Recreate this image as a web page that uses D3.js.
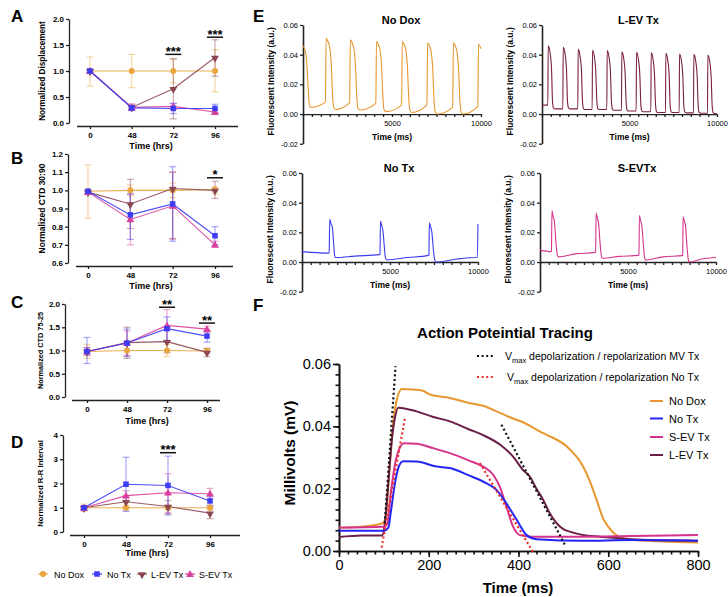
<!DOCTYPE html>
<html><head><meta charset="utf-8">
<script src="https://cdn.jsdelivr.net/npm/d3@7/dist/d3.min.js"></script>
<style>
body{margin:0;background:#fff;}
svg{display:block;}
text{font-family:Arial,"Liberation Sans",Helvetica,sans-serif;fill:#000;}
</style></head><body>
<svg id="fig" width="728" height="597"></svg>
<script>
// ================= DATA : panels A-D =================
const timeCats = ["0","48","72","96"];
const groupNames = ["No Dox","No Tx","L-EV Tx","S-EV Tx"];

// A: Normalized Displacement
const dispNoDox = [1.00,1.00,1.00,1.00];
const dispNoDoxErr = [[0.71,1.27],[0.68,1.32],[0.77,1.22],[0.60,1.41]];
const dispNoTx = [1.00,0.29,0.28,0.28];
const dispNoTxErr = [[0.97,1.03],[0.24,0.34],[0.18,0.38],[0.20,0.36]];
const dispLEV = [1.00,0.30,0.66,1.26];
const dispLEVErr = [[0.97,1.03],[0.25,0.35],[0.08,1.24],[0.90,1.60]];
const dispSEV = [1.00,0.30,0.32,0.21];
const dispSEVErr = [[0.97,1.03],[0.25,0.37],[0.27,0.37],[0.18,0.26]];
const dispSig = [["72",1.32,"***"],["96",1.65,"***"]];

// B: Normalized CTD 30:90
const ctd30NoDox = [0.995,1.000,1.000,1.005];
const ctd30NoDoxErr = [[0.845,1.14],[0.97,1.03],[0.96,1.04],[0.98,1.02]];
const ctd30NoTx = [0.995,0.865,0.925,0.750];
const ctd30NoTxErr = [[0.98,1.00],[0.73,0.98],[0.72,1.13],[0.70,0.80]];
const ctd30LEV = [0.990,0.925,1.010,1.000];
const ctd30LEVErr = [[0.98,1.00],[0.79,1.06],[0.735,1.10],[0.955,1.05]];
const ctd30SEV = [0.990,0.840,0.915,0.700];
const ctd30SEVErr = [[0.98,1.00],[0.70,0.98],[0.73,1.10],[0.69,0.72]];
const ctd30Sig = [["96",1.069,"*"]];

// C: Normalized CTD 75-25
const ctd75NoDox = [0.98,1.00,1.00,0.99];
const ctd75NoDoxErr = [[0.83,1.13],[0.88,1.12],[0.87,1.13],[0.95,1.04]];
const ctd75NoTx = [0.98,1.16,1.47,1.31];
const ctd75NoTxErr = [[0.72,1.28],[0.87,1.46],[1.22,1.72],[1.18,1.42]];
const ctd75LEV = [0.98,1.17,1.19,0.96];
const ctd75LEVErr = [[0.90,1.06],[0.83,1.50],[0.95,1.43],[0.87,1.05]];
const ctd75SEV = [0.98,1.16,1.54,1.46];
const ctd75SEVErr = [[0.90,1.06],[0.90,1.42],[1.20,1.88],[1.38,1.52]];
const ctd75Sig = [["72",1.93,"**"],["96",1.59,"**"]];

// D: Normalized R-R Interval
const rrNoDox = [1.00,1.00,1.00,1.00];
const rrNoDoxErr = [[0.85,1.15],[0.90,1.10],[0.90,1.10],[0.90,1.10]];
const rrNoTx = [1.00,1.97,1.92,1.28];
const rrNoTxErr = [[0.95,1.05],[0.85,3.08],[0.70,3.13],[1.10,1.46]];
const rrLEV = [1.00,1.25,1.05,0.78];
const rrLEVErr = [[0.95,1.05],[1.00,1.50],[0.75,1.30],[0.55,1.00]];
const rrSEV = [1.00,1.50,1.62,1.58];
const rrSEVErr = [[0.95,1.05],[1.30,1.70],[0.80,2.40],[1.35,1.80]];
const rrSig = [["72",3.27,"***"]];

// ================= DATA : panel E (fluorescence traces, [ms, a.u.]) =================
const traceNoDox = [[0,0.046],[120,0.043],[220,0.033],[300,0.015],[360,0.006],[450,0.0045],
 [1260,0.008],[1300,0.051],[1400,0.049],[1500,0.045],[1590,0.033],[1660,0.013],[1720,0.005],[1820,0.003],
 [2620,0.0075],[2660,0.050],[2760,0.048],[2860,0.044],[2950,0.032],[3020,0.012],[3080,0.004],[3180,0.0027],
 [4090,0.0072],[4130,0.049],[4230,0.047],[4330,0.043],[4420,0.031],[4490,0.011],[4550,0.003],[4650,0.0016],
 [5540,0.006],[5580,0.0488],[5680,0.047],[5780,0.043],[5870,0.031],[5940,0.011],[6000,0.003],[6100,0.001],
 [6960,0.006],[7000,0.048],[7100,0.046],[7200,0.042],[7290,0.030],[7360,0.010],[7420,0.002],[7520,0.0],
 [8410,0.0045],[8450,0.048],[8550,0.046],[8650,0.042],[8740,0.030],[8810,0.010],[8870,0.002],[8970,0.0],
 [9820,0.005],[9860,0.047],[10000,0.044]];
const traceLEV = [[0,0.006],[333,0.006],[353,0.046],[453,0.042],[543,0.031],[603,0.008],[663,0.004],[763,0.0035],
 [1190,0.0035],[1210,0.045],[1310,0.041],[1400,0.030],[1460,0.008],[1520,0.004],[1620,0.0035],
 [2047,0.0035],[2067,0.0436],[2167,0.0396],[2257,0.0286],[2317,0.008],[2377,0.0035],[2477,0.003],
 [2866,0.003],[2886,0.043],[2986,0.039],[3076,0.028],[3136,0.008],[3196,0.0035],[3296,0.003],
 [3704,0.003],[3724,0.0427],[3824,0.0387],[3914,0.0277],[3974,0.007],[4034,0.003],[4134,0.0025],
 [4542,0.0025],[4562,0.042],[4662,0.038],[4752,0.027],[4812,0.007],[4872,0.0025],[4972,0.002],
 [5380,0.002],[5400,0.0416],[5500,0.0376],[5590,0.0266],[5650,0.006],[5710,0.002],[5810,0.0015],
 [6219,0.0015],[6239,0.0413],[6339,0.0373],[6429,0.0263],[6489,0.006],[6549,0.0015],[6649,0.001],
 [7057,0.001],[7077,0.041],[7177,0.037],[7267,0.026],[7327,0.005],[7387,0.0015],[7487,0.001],
 [7838,0.001],[7858,0.0404],[7958,0.0364],[8048,0.0254],[8108,0.005],[8168,0.0013],[8268,0.0008],
 [8657,0.0008],[8677,0.0402],[8777,0.0362],[8867,0.0252],[8927,0.005],[8987,0.001],[9087,0.0005],
 [9457,0.0005],[9477,0.0398],[9577,0.0358],[9667,0.0248],[9727,0.005],[9787,0.0008],[9900,0.0003],[10000,0.0]];
const traceNoTx = [[0,0.007],[1500,0.006],[1540,0.0062],[1580,0.029],[1640,0.026],[1730,0.023],[1800,0.012],[1860,0.004],[1920,0.003],
 [3000,0.004],[4400,0.005],[4430,0.0052],[4460,0.0276],[4520,0.025],[4600,0.021],[4680,0.010],[4740,0.003],[4810,0.0015],
 [6000,0.003],[7190,0.0045],[7210,0.0047],[7240,0.0265],[7300,0.024],[7380,0.020],[7460,0.009],[7530,0.002],[7600,0.0],
 [8800,0.002],[9940,0.003],[9960,0.003],[10000,0.0256]];
const traceSEV = [[0,0.008],[620,0.007],[650,0.0072],[680,0.0345],[740,0.031],[820,0.027],[900,0.014],[980,0.005],[1040,0.0035],
 [2000,0.0055],[3140,0.0065],[3160,0.0067],[3190,0.033],[3250,0.030],[3330,0.026],[3410,0.013],[3490,0.004],[3540,0.0025],
 [4500,0.0038],[5600,0.0045],[5620,0.0047],[5650,0.0314],[5710,0.028],[5790,0.024],[5870,0.012],[5940,0.003],[5990,0.0014],
 [7000,0.0035],[8090,0.0043],[8110,0.0045],[8130,0.0305],[8190,0.028],[8270,0.024],[8350,0.011],[8420,0.002],[8460,0.0],
 [9200,0.002],[10000,0.003]];

// ================= DATA : panel F (action potential, [ms, mV]) =================
const apNoDox = [[0,0.0075],[50,0.0078],[98,0.009],[105,0.012],[112,0.025],[120,0.040],[128,0.048],[140,0.052],[165,0.0518],
 [185,0.0515],[203,0.0502],[247,0.0491],[290,0.0475],[321,0.0466],[351,0.0448],[381,0.0429],[410,0.0413],[455,0.0378],
 [470,0.0368],[507,0.0336],[544,0.0271],[560,0.022],[574,0.0164],[590,0.010],[600,0.0078],[618,0.0051],[655,0.0035],[730,0.003],[800,0.0027]];
const apNoTx = [[0,0.0065],[100,0.0065],[110,0.0075],[115,0.012],[125,0.022],[133,0.027],[143,0.0288],[173,0.0287],[217,0.0271],
 [247,0.0266],[292,0.0241],[321,0.0223],[351,0.0196],[373,0.0153],[396,0.010],[418,0.0051],[440,0.0038],[544,0.0033],[650,0.0035],[800,0.0033]];
const apSEV = [[0,0.0075],[100,0.0078],[108,0.009],[115,0.018],[125,0.028],[135,0.033],[145,0.0346],[173,0.0344],[210,0.033],
 [247,0.0314],[290,0.029],[321,0.0271],[344,0.0244],[358,0.0207],[373,0.0143],[388,0.0078],[403,0.0051],[433,0.0046],[544,0.0046],[650,0.0048],[800,0.0051]];
const apLEV = [[0,0.0045],[50,0.005],[97,0.005],[103,0.010],[110,0.022],[118,0.036],[125,0.043],[132,0.046],[173,0.0448],
 [210,0.043],[247,0.0416],[290,0.039],[321,0.0372],[360,0.034],[388,0.0303],[410,0.026],[425,0.0239],[440,0.020],[455,0.0164],
 [470,0.012],[485,0.0089],[500,0.007],[514,0.0062],[550,0.005],[581,0.0046],[692,0.0035],[800,0.0033]];
const vmaxMVdep = [[102,0.0089],[126,0.0593]];
const vmaxMVrep = [[362,0.0405],[503,0.0021]];
const vmaxNoTxDep = [[95,0.0011],[147,0.0427]];
const vmaxNoTxRep = [[314,0.0282],[433,-0.0005]];
const fTicksX = [0,200,400,600,800];
const fTicksY = [0,0.02,0.04,0.06];

// ================= DRAWING =================
const svg = d3.select("#fig");
const COL = {noDox:"#E9A43C", noTx:"#3C3CF5", lev:"#8C4852", sev:"#D9409E"};
const COLE = {noDox:"#E8962E", noTx:"#3A3AF0", lev:"#7A1F45", sev:"#D6338C"};
const COLF = {noDox:"#E8962E", noTx:"#2424F5", lev:"#6B1F48", sev:"#D6338C"};

function letter(t,x,y){ svg.append("text").attr("x",x).attr("y",y).attr("font-size",17).attr("font-weight","bold").text(t); }

function styleAxis(a, font, weight, color){
  a.selectAll("path,line").attr("stroke",color||"#222").attr("stroke-width",1.3);
  a.selectAll("text").attr("font-size",font).attr("font-weight",weight).attr("fill",color||"#222");
}

function marker(g, kind, cx, cy, color, s){
  if(kind==="circle") g.append("circle").attr("cx",cx).attr("cy",cy).attr("r",s*0.55).attr("fill",color);
  else if(kind==="square") g.append("rect").attr("x",cx-s/2).attr("y",cy-s/2).attr("width",s).attr("height",s).attr("fill",color);
  else {
    const p = d3.symbol().type(d3.symbolTriangle).size(s*s*0.9)();
    g.append("path").attr("d",p).attr("fill",color)
     .attr("transform",`translate(${cx},${cy+0.6}) rotate(${kind==="down"?180:0})`);
  }
}

function dotPanel(c){
  const g = svg.append("g");
  const x = d3.scalePoint().domain(timeCats).range([c.c0,c.c1]);
  const y = d3.scaleLinear().domain(c.dom).range([c.yBot,c.yTop]);
  const ya = g.append("g").attr("transform",`translate(${c.ax},0)`)
    .call(d3.axisLeft(y).tickValues(c.ticks).tickFormat(d3.format(c.fmt)).tickSize(3).tickPadding(2).tickSizeOuter(0));
  const xa = g.append("g").attr("transform",`translate(0,${c.xAxisY})`)
    .call(d3.axisBottom(x).tickSize(3).tickPadding(3).tickSizeOuter(0));
  xa.select(".domain").attr("d",`M${c.xs},0.5H${c.xe}`);
  styleAxis(ya,8,"bold"); styleAxis(xa,8,"bold");
  g.append("text").attr("transform",`translate(${c.ylabX},${(c.yTop+c.yBot)/2}) rotate(-90)`)
    .attr("text-anchor","middle").attr("font-size",c.labFont).attr("font-weight","bold").attr("fill","#222").text(c.ylab);
  g.append("text").attr("x",c.titleX).attr("y",c.titleY).attr("text-anchor","middle")
    .attr("font-size",9).attr("font-weight","bold").attr("fill","#222").text("Time (hrs)");
  c.series.forEach(s=>{
    const eg = g.append("g").attr("stroke",s.color).attr("stroke-opacity",0.45).attr("stroke-width",1.2);
    s.err.forEach((e,i)=>{
      const cx = x(timeCats[i]);
      eg.append("line").attr("x1",cx).attr("x2",cx).attr("y1",y(e[0])).attr("y2",y(e[1]));
      [e[0],e[1]].forEach(v=>eg.append("line").attr("x1",cx-3.5).attr("x2",cx+3.5).attr("y1",y(v)).attr("y2",y(v)));
    });
  });
  c.series.forEach(s=>{
    g.append("path").datum(s.mean).attr("fill","none").attr("stroke",s.color).attr("stroke-width",1.1).attr("stroke-opacity",0.9)
      .attr("d",d3.line().x((d,i)=>x(timeCats[i])).y(d=>y(d)));
  });
  c.series.forEach(s=>{ s.mean.forEach((v,i)=>marker(g,s.kind,x(timeCats[i]),y(v),s.color,5.5)); });
  c.sig.forEach(sg=>{
    const cx = x(sg[0]), yy = y(sg[1]);
    g.append("line").attr("x1",cx-8).attr("x2",cx+8).attr("y1",yy).attr("y2",yy).attr("stroke","#111").attr("stroke-width",1.5);
    g.append("text").attr("x",cx).attr("y",yy+1.5).attr("text-anchor","middle").attr("font-size",13).attr("font-weight","bold").text(sg[2]);
  });
  letter(c.letter,11,c.letterY);
}

function seriesOf(nd,ndE,nt,ntE,lv,lvE,sv,svE){
  return [
    {mean:nd, err:ndE, color:COL.noDox, kind:"circle"},
    {mean:lv, err:lvE, color:COL.lev, kind:"down"},
    {mean:sv, err:svE, color:COL.sev, kind:"up"},
    {mean:nt, err:ntE, color:COL.noTx, kind:"square"}
  ];
}

dotPanel({letter:"A",letterY:22,ax:69,yTop:19,yBot:123,dom:[0,2],ticks:[0,0.5,1,1.5,2],fmt:".1f",
  c0:90,c1:215,xs:77,xe:238,xAxisY:126,ylabX:45,labFont:8.2,ylab:"Normalized Displacement",titleX:151,titleY:149,
  series:seriesOf(dispNoDox,dispNoDoxErr,dispNoTx,dispNoTxErr,dispLEV,dispLEVErr,dispSEV,dispSEVErr),sig:dispSig});
dotPanel({letter:"B",letterY:164,ax:68,yTop:154,yBot:263,dom:[0.6,1.2],ticks:[0.6,0.7,0.8,0.9,1.0,1.1,1.2],fmt:".1f",
  c0:88,c1:215,xs:76,xe:233,xAxisY:266,ylabX:45,labFont:8.5,ylab:"Normalized CTD 30:90",titleX:151,titleY:289,
  series:seriesOf(ctd30NoDox,ctd30NoDoxErr,ctd30NoTx,ctd30NoTxErr,ctd30LEV,ctd30LEVErr,ctd30SEV,ctd30SEVErr),sig:ctd30Sig});
dotPanel({letter:"C",letterY:308,ax:65,yTop:304,yBot:397,dom:[0,2],ticks:[0,0.5,1,1.5,2],fmt:".1f",
  c0:87,c1:207,xs:72,xe:220,xAxisY:400,ylabX:43,labFont:7.3,ylab:"Normalized CTD 75-25",titleX:147,titleY:424,
  series:seriesOf(ctd75NoDox,ctd75NoDoxErr,ctd75NoTx,ctd75NoTxErr,ctd75LEV,ctd75LEVErr,ctd75SEV,ctd75SEVErr),sig:ctd75Sig});
dotPanel({letter:"D",letterY:448,ax:63,yTop:435,yBot:532,dom:[0,4],ticks:[0,1,2,3,4],fmt:"d",
  c0:84,c1:210,xs:70,xe:240,xAxisY:535,ylabX:43,labFont:7.7,ylab:"Normalized R-R Interval",titleX:147,titleY:556,
  series:seriesOf(rrNoDox,rrNoDoxErr,rrNoTx,rrNoTxErr,rrLEV,rrLEVErr,rrSEV,rrSEVErr),sig:rrSig});

// legend A-D
(function(){
  const lg = svg.append("g");
  const items = [
    {name:groupNames[0],color:COL.noDox,kind:"circle",x:43,tx:54},
    {name:groupNames[1],color:COL.noTx,kind:"square",x:97,tx:107},
    {name:groupNames[2],color:COL.lev,kind:"down",x:142,tx:151},
    {name:groupNames[3],color:COL.sev,kind:"up",x:190,tx:199}
  ];
  items.forEach(it=>{
    lg.append("line").attr("x1",it.x-5).attr("x2",it.x+5).attr("y1",574).attr("y2",574).attr("stroke",it.color).attr("stroke-width",1.2);
    marker(lg,it.kind,it.x,574,it.color,5.5);
    lg.append("text").attr("x",it.tx).attr("y",577.5).attr("font-size",9).attr("fill","#333").text(it.name);
  });
})();

// ---------- Panel E ----------
function tracePanel(c){
  const g = svg.append("g");
  const x = d3.scaleLinear().domain([0,10000]).range([c.x0,c.x1]);
  const y = d3.scaleLinear().domain([-0.02,0.06]).range([c.yBot,c.yTop]);
  const ya = g.append("g").attr("transform",`translate(${c.x0},0)`)
    .call(d3.axisLeft(y).tickValues([-0.02,0,0.02,0.04,0.06]).tickFormat(d=>d.toFixed(2)).tickSize(3).tickPadding(2).tickSizeOuter(0));
  const xa = g.append("g").attr("transform",`translate(0,${y(0)})`)
    .call(d3.axisBottom(x).tickValues(d3.range(0,10001,500)).tickFormat(d=>(d===5000||d===10000)?d:"").tickSize(3).tickPadding(4).tickSizeOuter(0));
  styleAxis(ya,7.5,"normal"); styleAxis(xa,7.5,"normal");
  ya.select(".domain").attr("stroke-width",1.6);
  g.append("path").datum(c.data).attr("fill","none").attr("stroke",c.color).attr("stroke-width",1.1)
    .attr("d",d3.line().x(d=>x(d[0])).y(d=>y(d[1])).curve(d3.curveMonotoneX));
  g.append("text").attr("x",(c.x0+c.x1)/2+9).attr("y",c.yTop-1).attr("text-anchor","middle")
    .attr("font-size",11).attr("font-weight","bold").text(c.title);
  g.append("text").attr("transform",`translate(${c.x0-29},${(c.yTop+c.yBot)/2-3}) rotate(-90)`).attr("text-anchor","middle")
    .attr("font-size",8.5).attr("font-weight","bold").attr("fill","#222").text("Fluorescent Intensity (a.u.)");
  g.append("text").attr("x",(c.x0+c.x1)/2).attr("y",y(0)+26).attr("text-anchor","middle")
    .attr("font-size",8.5).attr("font-weight","bold").attr("fill","#222").text("Time (ms)");
}
tracePanel({title:"No Dox",x0:303,x1:481,yTop:25,yBot:143.7,data:traceNoDox,color:COLE.noDox});
tracePanel({title:"L-EV Tx",x0:542,x1:717,yTop:25,yBot:143.7,data:traceLEV,color:COLE.lev});
tracePanel({title:"No Tx",x0:302,x1:478,yTop:173,yBot:291.7,data:traceNoTx,color:COLE.noTx});
tracePanel({title:"S-EVTx",x0:540,x1:716,yTop:173,yBot:291.7,data:traceSEV,color:COLE.sev});
letter("E",253,22);

// ---------- Panel F ----------
(function(){
  const g = svg.append("g");
  const x = d3.scaleLinear().domain([0,800]).range([339,698]);
  const y = d3.scaleLinear().domain([0,0.06]).range([551,364]);
  const xm = g.append("g").attr("transform","translate(0,551)")
    .call(d3.axisBottom(x).tickValues(d3.range(0,801,20)).tickFormat("").tickSize(3.5).tickSizeOuter(0));
  const xM = g.append("g").attr("transform","translate(0,551)")
    .call(d3.axisBottom(x).tickValues(fTicksX).tickFormat(d3.format("d")).tickSize(6).tickPadding(3).tickSizeOuter(0));
  const ym = g.append("g").attr("transform","translate(339,0)")
    .call(d3.axisLeft(y).tickValues(d3.range(0,19).map(i=>i*0.06/18)).tickFormat("").tickSize(3.5).tickSizeOuter(0));
  const yM = g.append("g").attr("transform","translate(339,0)")
    .call(d3.axisLeft(y).tickValues(fTicksY).tickFormat(d3.format(".2f")).tickSize(6).tickPadding(2).tickSizeOuter(0));
  [xm,xM,ym,yM].forEach(a=>styleAxis(a,14.5,"normal","#111"));
  [xm,xM,ym,yM].forEach(a=>a.selectAll("path,line").attr("stroke-width",1.6));
  const line = d3.line().x(d=>x(d[0])).y(d=>y(d[1])).curve(d3.curveMonotoneX);
  [[apNoDox,COLF.noDox],[apLEV,COLF.lev],[apSEV,COLF.sev],[apNoTx,COLF.noTx]].forEach(([d,c])=>{
    g.append("path").datum(d).attr("fill","none").attr("stroke",c).attr("stroke-width",2).attr("d",line);
  });
  const dl = d3.line().x(d=>x(d[0])).y(d=>y(d[1]));
  [[vmaxMVdep,"#111"],[vmaxMVrep,"#111"],[vmaxNoTxDep,"#E8302A"],[vmaxNoTxRep,"#E8302A"]].forEach(([d,c])=>{
    g.append("path").datum(d).attr("fill","none").attr("stroke",c).attr("stroke-width",2.2).attr("stroke-dasharray","2,2.6").attr("d",dl);
  });
  g.append("text").attr("x",505).attr("y",338).attr("text-anchor","middle").attr("font-size",15).attr("font-weight","bold").text("Action Poteintial Tracing");
  g.append("text").attr("transform","translate(290,453) rotate(-90)").attr("text-anchor","middle").attr("dy","0.35em")
    .attr("font-size",15.5).attr("font-weight","bold").text("Millivolts (mV)");
  g.append("text").attr("x",518).attr("y",593).attr("text-anchor","middle").attr("font-size",15).attr("font-weight","bold").text("Time (ms)");
  [[356,"#111"," depolarization / repolarization MV Tx",505],[377,"#E8302A"," depolarization / repolarization No Tx",507]].forEach(([yy,c,t,tx])=>{
    g.append("line").attr("x1",477).attr("x2",494).attr("y1",yy).attr("y2",yy).attr("stroke",c).attr("stroke-width",2.2).attr("stroke-dasharray","2,2.6");
    const tt = g.append("text").attr("x",tx).attr("y",yy+4).attr("font-size",10.5).attr("fill","#111");
    tt.append("tspan").text("V");
    tt.append("tspan").attr("dy",3).attr("font-size",7.5).text("max");
    tt.append("tspan").attr("dy",-3).text(t);
  });
  [["No Dox",COLF.noDox,401],["No Tx",COLF.noTx,418.5],["S-EV Tx",COLF.sev,437],["L-EV Tx",COLF.lev,455]].forEach(([n,c,yy])=>{
    g.append("line").attr("x1",650).attr("x2",663).attr("y1",yy).attr("y2",yy).attr("stroke",c).attr("stroke-width",2);
    g.append("text").attr("x",669).attr("y",yy+4).attr("font-size",11).attr("fill","#111").text(n);
  });
})();
letter("F",253,311);
</script></body></html>
